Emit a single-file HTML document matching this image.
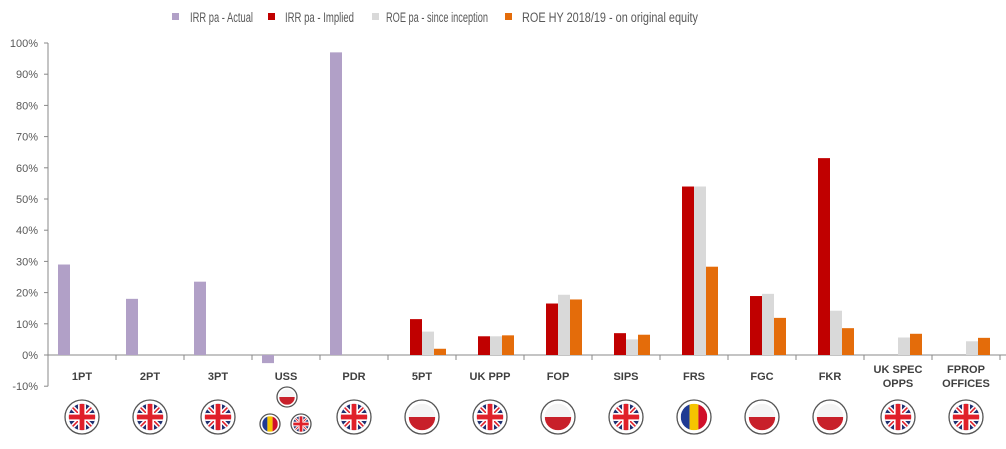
<!DOCTYPE html>
<html><head><meta charset="utf-8"><style>
body{margin:0;background:#fff}
svg{display:block;font-family:"Liberation Sans",sans-serif}
</style></head><body>
<svg id="c" width="1006" height="449" xmlns="http://www.w3.org/2000/svg"></svg>
<script>
const s=document.getElementById('c');let h='';
const Y=v=>355-v*3.12;
for(let p=-10;p<=100;p+=10){h+=`<text x="38" y="${Y(p)+4}" font-size="11" fill="#595959" text-anchor="end">${p}%</text>`;
h+=`<line x1="44" x2="48" y1="${Y(p)}" y2="${Y(p)}" stroke="#888"/>`;}
h+=`<line x1="48" x2="48" y1="${Y(100)}" y2="${Y(-10)}" stroke="#888"/>`;
h+=`<line x1="48" x2="1006" y1="355" y2="355" stroke="#888"/>`;
for(let k=1;k<=14;k++){const x=48+68*k;h+=`<line x1="${x}" x2="${x}" y1="355" y2="360" stroke="#888"/>`;}
const cols=['#b1a0c7','#c00000','#d9d9d9','#e46c0a'];
const cats=[['1PT',[29,0,0,0],'uk'],['2PT',[18,0,0,0],'uk'],['3PT',[23.5,0,0,0],'uk'],['USS',[-2.6,0,0,0],'uss'],['PDR',[97,0,0,0],'uk'],
['5PT',[0,11.5,7.5,2],'pl'],['UK PPP',[0,6,6,6.3],'uk'],['FOP',[0,16.5,19.3,17.8],'pl'],['SIPS',[0,7,5,6.5],'uk'],
['FRS',[0,54,54,28.3],'ro'],['FGC',[0,18.9,19.6,11.9],'pl'],['FKR',[0,63.1,14.2,8.6],'pl'],['UK SPEC|OPPS',[0,0,5.6,6.8],'uk'],['FPROP|OFFICES',[0,0,4.4,5.5],'uk']];
function flag(t,cx,cy,r){let o=`<circle cx="${cx}" cy="${cy}" r="${r}" fill="#fff" stroke="#555" stroke-width="1.3"/>`;const ri=r*0.78;
const id='k'+Math.round(cx)+'_'+Math.round(cy);
o+=`<clipPath id="${id}"><circle cx="${cx}" cy="${cy}" r="${ri}"/></clipPath><g clip-path="url(#${id})">`;
if(t=='uk'){o+=`<rect x="${cx-ri}" y="${cy-ri}" width="${2*ri}" height="${2*ri}" fill="#1f3070"/>
<line x1="${cx-ri}" y1="${cy-ri}" x2="${cx+ri}" y2="${cy+ri}" stroke="#fff" stroke-width="${ri*0.35}"/><line x1="${cx+ri}" y1="${cy-ri}" x2="${cx-ri}" y2="${cy+ri}" stroke="#fff" stroke-width="${ri*0.35}"/>
<line x1="${cx-ri}" y1="${cy-ri}" x2="${cx+ri}" y2="${cy+ri}" stroke="#e0202a" stroke-width="${ri*0.12}"/><line x1="${cx+ri}" y1="${cy-ri}" x2="${cx-ri}" y2="${cy+ri}" stroke="#e0202a" stroke-width="${ri*0.12}"/>
<rect x="${cx-ri}" y="${cy-ri*0.3}" width="${2*ri}" height="${ri*0.6}" fill="#fff"/><rect x="${cx-ri*0.3}" y="${cy-ri}" width="${ri*0.6}" height="${2*ri}" fill="#fff"/>
<rect x="${cx-ri}" y="${cy-ri*0.18}" width="${2*ri}" height="${ri*0.36}" fill="#e0202a"/><rect x="${cx-ri*0.18}" y="${cy-ri}" width="${ri*0.36}" height="${2*ri}" fill="#e0202a"/>`;}
else if(t=='pl'){o+=`<rect x="${cx-ri}" y="${cy-ri}" width="${2*ri}" height="${ri}" fill="#f4f4f4"/><rect x="${cx-ri}" y="${cy}" width="${2*ri}" height="${ri}" fill="#c8202a"/>`;}
else{const w=2*ri/3;o+=`<rect x="${cx-ri}" y="${cy-ri}" width="${w}" height="${2*ri}" fill="#1f3a93"/><rect x="${cx-ri+w}" y="${cy-ri}" width="${w}" height="${2*ri}" fill="#f5c400"/><rect x="${cx-ri+2*w}" y="${cy-ri}" width="${w}" height="${2*ri}" fill="#d0102a"/>`;}
return o+'</g>';}
cats.forEach((c,i)=>{const cx=48+68*(i+0.5);
c[1].forEach((v,j)=>{if(!v)return;const x=cx-24+12*j;const y=Math.min(Y(v),355);h+=`<rect x="${x}" y="${y}" width="12" height="${Math.abs(Y(v)-355)}" fill="${cols[j]}"/>`;});
const L=c[0].split('|');
if(L.length==1)h+=`<text x="${cx}" y="380" font-size="11" font-weight="bold" fill="#404040" text-anchor="middle">${L[0]}</text>`;
else L.forEach((l,k)=>h+=`<text x="${cx}" y="${373+k*14}" font-size="11" font-weight="bold" fill="#404040" text-anchor="middle">${l}</text>`);
if(c[2]=='uss'){h+=flag('pl',287,397,10)+flag('ro',270,424,10)+flag('uk',301,424,10);}
else h+=flag(c[2],cx,417,17);});
const lg=[[172,190,'IRR pa - Actual',63],[268,285,'IRR pa - Implied',69],[372,386,'ROE pa - since inception',102],[505,522,'ROE HY 2018/19 - on original equity',176]];
lg.forEach((l,i)=>{h+=`<rect x="${l[0]}" y="13" width="7" height="7" fill="${cols[i]}"/><text x="${l[1]}" y="22" font-size="13.5" fill="#595959" textLength="${l[3]}" lengthAdjust="spacingAndGlyphs">${l[2]}</text>`;});
s.innerHTML=h;
</script>
</body></html>
